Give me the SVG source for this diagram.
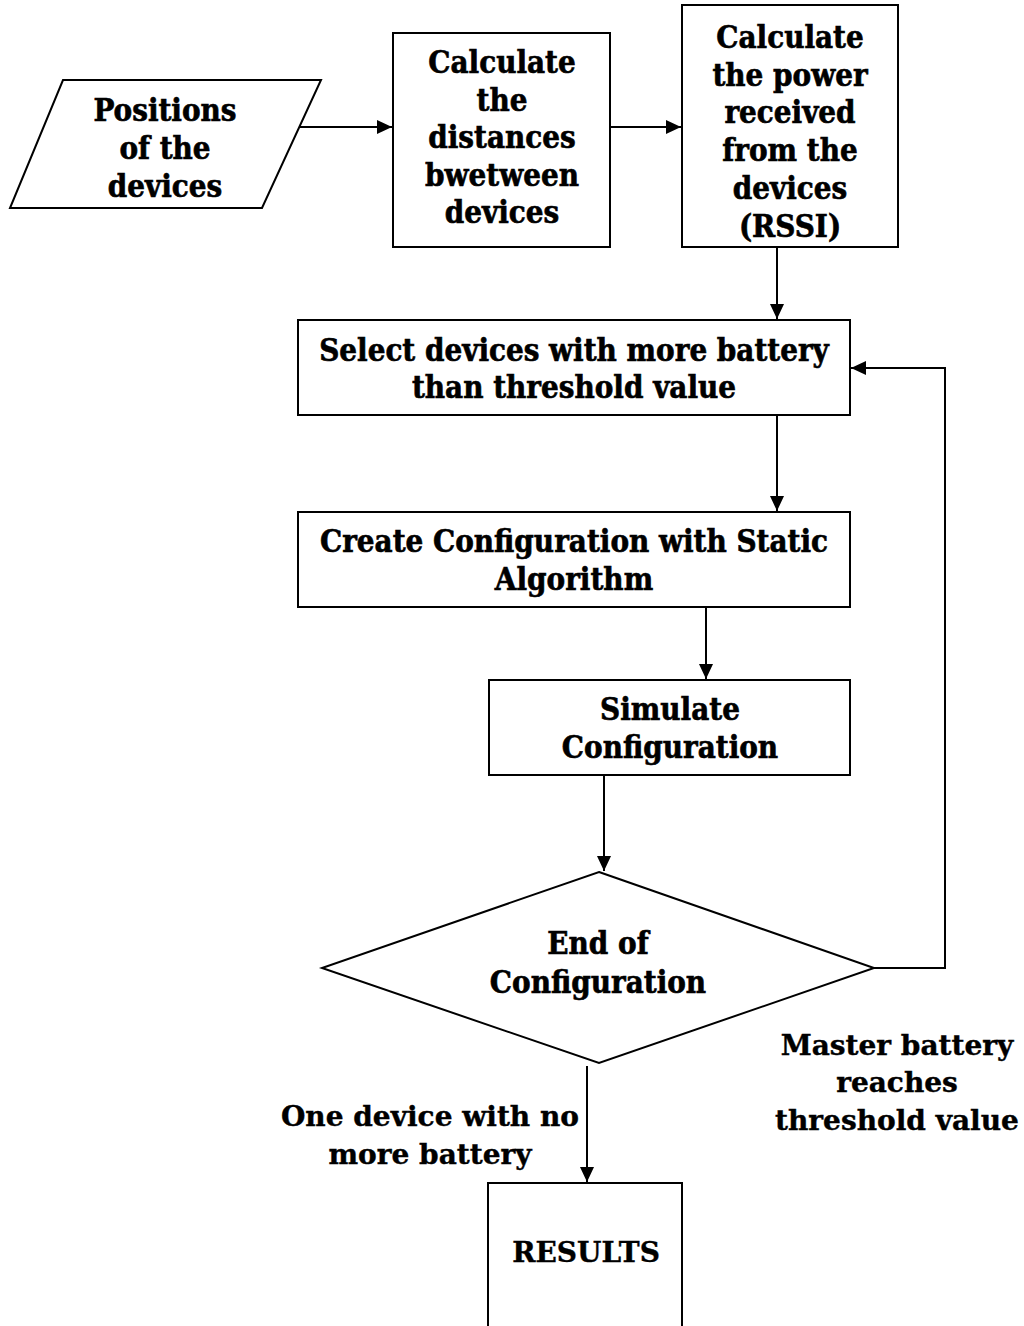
<svg xmlns="http://www.w3.org/2000/svg" width="1024" height="1326" viewBox="0 0 1024 1326">
  <style>
    .shape { fill: #ffffff; stroke: #000000; stroke-width: 2; }
    .edge { fill: none; stroke: #000000; stroke-width: 2; }
    .lbl { font-family: "DejaVu Serif Condensed", "DejaVu Serif", serif; font-weight: bold; font-size: 31px; fill: #000000; stroke: #000000; stroke-width: 0.6; text-anchor: middle; dominant-baseline: central; }
    .wide { font-family: "DejaVu Serif", serif; font-weight: bold; font-size: 28px; fill: #000000; stroke: #000000; stroke-width: 0.4; text-anchor: middle; dominant-baseline: central; }
  </style>
  <defs>
    <marker id="arrow" markerUnits="userSpaceOnUse" markerWidth="16" markerHeight="14" refX="15" refY="7" orient="auto">
      <path d="M0,0 L15,7 L0,14 Z" fill="#000000"/>
    </marker>
  </defs>
  <rect width="1024" height="1326" fill="#ffffff"/>

  <g id="connectors">
    <line class="edge" x1="299" y1="127" x2="392" y2="127" marker-end="url(#arrow)"/>
    <line class="edge" x1="610" y1="127" x2="681" y2="127" marker-end="url(#arrow)"/>
    <line class="edge" x1="777" y1="247" x2="777" y2="319" marker-end="url(#arrow)"/>
    <line class="edge" x1="777" y1="415" x2="777" y2="511" marker-end="url(#arrow)"/>
    <line class="edge" x1="706" y1="607" x2="706" y2="679" marker-end="url(#arrow)"/>
    <line class="edge" x1="604" y1="775" x2="604" y2="871" marker-end="url(#arrow)"/>
    <polyline class="edge" points="874,968 945,968 945,368 851,368" marker-end="url(#arrow)"/>
    <line class="edge" x1="587" y1="1066" x2="587" y2="1182" marker-end="url(#arrow)"/>
    <text class="wide" x="897" y="1045">Master battery</text>
    <text class="wide" x="897" y="1082">reaches</text>
    <text class="wide" x="897" y="1120">threshold value</text>
    <text class="wide" x="430" y="1116">One device with no</text>
    <text class="wide" x="430" y="1154">more battery</text>
  </g>

  <g id="positions">
    <polygon class="shape" points="63,80 321,80 262,208 10,208"/>
    <text class="lbl" x="165" y="110">Positions</text>
    <text class="lbl" x="165" y="148">of the</text>
    <text class="lbl" x="165" y="186">devices</text>
  </g>

  <g id="distances">
    <rect class="shape" x="393" y="33" width="217" height="214"/>
    <text class="lbl" x="502" y="62">Calculate</text>
    <text class="lbl" x="502" y="100">the</text>
    <text class="lbl" x="502" y="137">distances</text>
    <text class="lbl" x="502" y="175">bwetween</text>
    <text class="lbl" x="502" y="212">devices</text>
  </g>

  <g id="rssi">
    <rect class="shape" x="682" y="5" width="216" height="242"/>
    <text class="lbl" x="790" y="37">Calculate</text>
    <text class="lbl" x="790" y="75">the power</text>
    <text class="lbl" x="790" y="112">received</text>
    <text class="lbl" x="790" y="150">from the</text>
    <text class="lbl" x="790" y="188">devices</text>
    <text class="lbl" x="790" y="226">(RSSI)</text>
  </g>

  <g id="select">
    <rect class="shape" x="298" y="320" width="552" height="95"/>
    <text class="lbl" x="574" y="350">Select devices with more battery</text>
    <text class="lbl" x="574" y="387">than threshold value</text>
  </g>

  <g id="create">
    <rect class="shape" x="298" y="512" width="552" height="95"/>
    <text class="lbl" x="574" y="541">Create Configuration with Static</text>
    <text class="lbl" x="574" y="579">Algorithm</text>
  </g>

  <g id="simulate">
    <rect class="shape" x="489" y="680" width="361" height="95"/>
    <text class="lbl" x="670" y="709">Simulate</text>
    <text class="lbl" x="670" y="747">Configuration</text>
  </g>

  <g id="end">
    <polygon class="shape" points="599,872 874,968 599,1063 322,968"/>
    <text class="lbl" x="598" y="943">End of</text>
    <text class="lbl" x="598" y="982">Configuration</text>
  </g>

  <g id="results">
    <rect class="shape" x="488" y="1183" width="194" height="160"/>
    <text class="wide" x="586" y="1252">RESULTS</text>
  </g>
</svg>
